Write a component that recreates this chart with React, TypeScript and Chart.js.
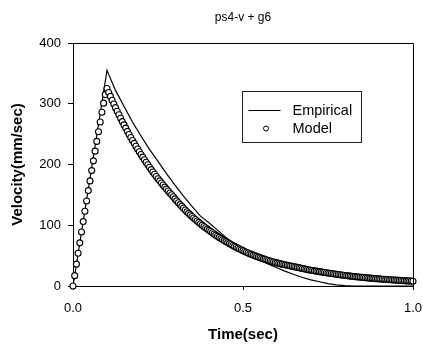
import React, { useEffect, useRef } from "react";
import { Chart, registerables } from "chart.js";

Chart.register(...registerables);

const chartTitle = "ps4-v + g6";
const xAxisTitle = "Time(sec)";
const yAxisTitle = "Velocity(mm/sec)";
const legendLabels = ["Empirical", "Model"];
const xTickValues = [0, 0.5, 1.0];
const yTickValues = [0, 100, 200, 300, 400];

const empiricalTimes = [
  0, 0.1, 0.125, 0.15, 0.175, 0.2, 0.225, 0.25, 0.275, 0.3, 0.325, 0.35, 0.375, 0.4,
  0.425, 0.45, 0.475, 0.5, 0.525, 0.55, 0.575, 0.6, 0.625, 0.65, 0.675, 0.7, 0.725,
  0.75, 0.775, 0.8, 0.825, 0.85, 0.9, 0.95, 1.0,
];
const empiricalVelocity = [
  0, 355, 322, 296, 270, 247, 225, 205, 185, 166, 148, 131, 115, 104,
  92, 80, 69, 59, 50, 43, 36, 30, 24, 19, 14, 10, 7,
  4, 2, 0.5, 0, 0, 0, 0, 0,
];

const modelStartTime = 0;
const modelTimeStep = 0.005;
const modelVelocity = [
  0, 17, 36, 54, 71, 89, 106, 123, 140, 157,
  173, 190, 206, 222, 238, 254, 270, 286, 301, 315,
  325, 318.5, 312.1, 305.8, 299.6, 293.6, 287.7, 281.9, 276.2, 270.6,
  265.2, 259.9, 254.6, 249.5, 244.5, 239.6, 234.8, 230.1, 225.4, 220.9,
  216.4, 212.1, 207.8, 203.6, 199.5, 195.5, 191.6, 187.7, 183.9, 180.2,
  176.6, 173.1, 169.6, 166.2, 162.8, 159.5, 156.3, 153.2, 150.1, 146.8,
  143.4, 140.2, 137.0, 134.0, 131.0, 128.0, 125.0, 122.3, 119.6, 117.0,
  114.5, 112.0, 109.5, 107.1, 104.8, 102.5, 100.2, 98.0, 95.8, 93.7,
  91.6, 89.6, 87.6, 85.6, 83.7, 81.8, 80.0, 78.2, 76.4, 74.7,
  73.0, 71.4, 69.8, 68.2, 66.7, 65.2, 63.7, 62.3, 60.9, 59.5,
  58.2, 56.9, 55.6, 54.4, 53.2, 52.0, 50.9, 49.8, 48.7, 47.7,
  46.7, 45.7, 44.7, 43.8, 42.9, 42.0, 41.1, 40.3, 39.5, 38.7,
  38.0, 37.3, 36.6, 36.0, 35.4, 34.8, 34.2, 33.6, 33.0, 32.4,
  31.8, 31.2, 30.6, 30.0, 29.4, 28.8, 28.2, 27.6, 27.0, 26.4,
  25.9, 25.4, 24.9, 24.5, 24.1, 23.6, 23.2, 22.7, 22.2, 21.8,
  21.3, 20.9, 20.5, 20.1, 19.7, 19.3, 18.9, 18.5, 18.1, 17.7,
  17.4, 17.0, 16.7, 16.3, 16.0, 15.7, 15.4, 15.1, 14.8, 14.5,
  14.2, 13.9, 13.7, 13.4, 13.1, 12.9, 12.6, 12.4, 12.1, 11.9,
  11.7, 11.4, 11.2, 11.0, 10.8, 10.6, 10.4, 10.2, 10.0, 9.8,
  9.6, 9.4, 9.2, 9.1, 8.9, 8.7, 8.5, 8.4, 8.2, 8.1,
  7.9,
];

const FONT = "'Liberation Sans', Arial, Helvetica, sans-serif";

const framePlugin = {
  id: "frame",
  afterDatasetsDraw(chart: any) {
    const { ctx, chartArea } = chart;
    const { left, right, top, bottom } = chartArea;
    ctx.save();
    ctx.strokeStyle = "#000";
    ctx.lineWidth = 1;
    ctx.beginPath();
    ctx.moveTo(left, top + 0.5);
    ctx.lineTo(right + 0.5, top + 0.5);
    ctx.lineTo(right + 0.5, bottom);
    ctx.stroke();
    ctx.restore();
  },
};

const legendPlugin = {
  id: "boxLegend",
  afterDraw(chart: any) {
    const { ctx, chartArea } = chart;
    const w = chartArea.right - chartArea.left;
    const x0 = Math.round(chartArea.left + w * 0.5) - 0.5;
    const y0 = Math.round(chartArea.top + 48) + 0.5;
    const bw = 119;
    const bh = 51;
    ctx.save();
    ctx.fillStyle = "#fff";
    ctx.fillRect(x0, y0, bw, bh);
    ctx.strokeStyle = "#222";
    ctx.lineWidth = 1;
    ctx.strokeRect(x0, y0, bw, bh);
    const row1 = y0 + 19;
    const row2 = y0 + 37;
    ctx.strokeStyle = "#000";
    ctx.lineWidth = 1.2;
    ctx.beginPath();
    ctx.moveTo(x0 + 6, row1);
    ctx.lineTo(x0 + 38, row1);
    ctx.stroke();
    ctx.lineWidth = 1;
    ctx.beginPath();
    ctx.arc(x0 + 23.5, row2, 2.5, 0, Math.PI * 2);
    ctx.fillStyle = "#fff";
    ctx.fill();
    ctx.stroke();
    ctx.fillStyle = "#000";
    ctx.font = `14.5px ${FONT}`;
    ctx.textBaseline = "middle";
    ctx.textAlign = "left";
    ctx.fillText(legendLabels[0], x0 + 50, row1);
    ctx.fillText(legendLabels[1], x0 + 50, row2);
    ctx.restore();
  },
};

export default function App() {
  const canvasRef = useRef<HTMLCanvasElement | null>(null);

  useEffect(() => {
    const canvas = canvasRef.current;
    if (!canvas) return;
    const empiricalData = empiricalTimes.map((t, i) => ({ x: t, y: empiricalVelocity[i] }));
    const modelData = modelVelocity.map((v, i) => ({ x: modelStartTime + i * modelTimeStep, y: v }));

    const chart = new Chart(canvas, {
      type: "line",
      data: {
        datasets: [
          {
            label: legendLabels[1],
            data: modelData,
            showLine: false,
            pointRadius: 3,
            pointBorderWidth: 1.1,
            pointBackgroundColor: "#fff",
            pointBorderColor: "#000",
            borderColor: "#000",
            backgroundColor: "#fff",
            clip: false as any,
          },
          {
            label: legendLabels[0],
            data: empiricalData,
            borderColor: "#000",
            borderWidth: 1.2,
            pointRadius: 0,
            tension: 0,
            fill: false,
          },
        ],
      },
      options: {
        responsive: false,
        animation: false,
        events: [],
        layout: { padding: { left: 0, right: 10, top: 0, bottom: 0 } },
        plugins: {
          legend: { display: false },
          tooltip: { enabled: false },
          title: {
            display: true,
            text: chartTitle,
            color: "#000",
            fullSize: false,
            font: { family: FONT, size: 12, weight: "normal" },
            padding: { top: 10, bottom: 18.6 },
          },
        },
        scales: {
          x: {
            type: "linear",
            min: 0,
            max: 1,
            afterBuildTicks: (axis: any) => {
              axis.ticks = xTickValues.map((v) => ({ value: v }));
            },
            afterFit: (axis: any) => {
              axis.height = 61;
              axis.paddingLeft = 0;
              axis.paddingRight = 0;
            },
            ticks: {
              color: "#000",
              font: { family: FONT, size: 13 },
              padding: 11,
              maxRotation: 0,
              callback: (v: any) => Number(v).toFixed(1),
            },
            grid: {
              display: true,
              drawOnChartArea: false,
              drawTicks: true,
              tickLength: 4,
              color: "#000",
            },
            border: { display: true, color: "#000", width: 1 },
            title: {
              display: true,
              text: xAxisTitle,
              color: "#000",
              font: { family: FONT, size: 15, weight: "bold" },
              padding: { top: 0, bottom: 3 },
            },
          },
          y: {
            type: "linear",
            min: 0,
            max: 400,
            afterBuildTicks: (axis: any) => {
              axis.ticks = yTickValues.map((v) => ({ value: v }));
            },
            afterFit: (axis: any) => {
              axis.width = 73;
              axis.paddingTop = 0;
              axis.paddingBottom = 0;
            },
            ticks: {
              color: "#000",
              font: { family: FONT, size: 13 },
              padding: 7,
            },
            grid: {
              display: true,
              drawOnChartArea: false,
              drawTicks: true,
              tickLength: 5,
              color: "#000",
            },
            border: { display: true, color: "#000", width: 1 },
            title: {
              display: true,
              text: yAxisTitle,
              color: "#000",
              font: { family: FONT, size: 15, weight: "bold" },
              padding: { top: 9, bottom: 0 },
            },
          },
        },
      },
      plugins: [framePlugin, legendPlugin],
    } as any);

    return () => chart.destroy();
  }, []);

  return (
    <div style={{ position: "fixed", left: 0, top: 0, width: 423, height: 347, background: "#fff" }}>
      <canvas ref={canvasRef} width={423} height={347} style={{ display: "block" }} />
    </div>
  );
}
